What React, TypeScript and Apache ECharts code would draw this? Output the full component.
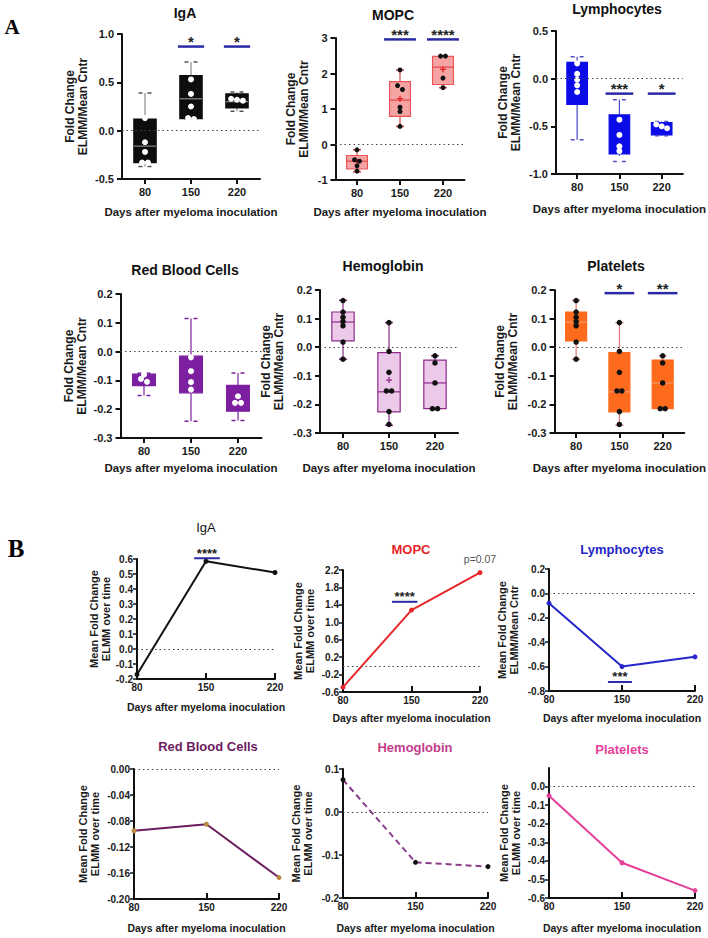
import React, { useEffect, useRef } from 'react';
import * as echarts from 'echarts';

const FONT = '"Liberation Sans", Arial, Helvetica, sans-serif';
const SERIF = '"Liberation Serif", "Times New Roman", Times, serif';

// ---------------- data ----------------
const days = [80, 150, 220];
const xName = 'Days after myeloma inoculation';
const yNameA = 'Fold Change\nELMM/Mean Cntr';
const yNameB = 'Mean Fold Change\nELMM over time';
const yNameBLymph = 'Mean Fold Change\nELMM/Mean Cntr';

// Panel A box statistics: [min, Q1, median, Q3, max] per day
const igaBoxStats = [[-0.37, -0.33, -0.16, 0.12, 0.39], [0.12, 0.125, 0.33, 0.57, 0.71], [0.2, 0.235, 0.3, 0.38, 0.4]];
const igaBoxPoints = [[0.13, -0.12, -0.22, -0.33, -0.33], [0.53, 0.38, 0.25, 0.13, 0.12], [0.33, 0.31, 0.32]];

const mopcBoxStats = [[-0.77, -0.69, -0.47, -0.31, -0.15], [0.51, 0.79, 1.25, 1.77, 2.1], [1.6, 1.69, 2.18, 2.48, 2.5]];
const mopcBoxMeans = [-0.48, 1.29, 2.12];
const mopcBoxPoints = [[-0.15, -0.43, -0.47, -0.6, -0.75], [2.1, 1.66, 1.55, 1.05, 0.93, 0.51], [2.49, 2.49, 1.87, 1.6]];

const lymphBoxStats = [[-0.64, -0.27, -0.05, 0.17, 0.23], [-0.87, -0.79, -0.6, -0.38, -0.22], [-0.6, -0.59, -0.52, -0.46, -0.45]];
const lymphBoxPoints = [[0.16, 0.05, -0.01, -0.07, -0.14], [-0.43, -0.59, -0.71, -0.76, -0.84], [-0.48, -0.5, -0.52]];

const rbcBoxStats = [[-0.152, -0.118, -0.1, -0.078, -0.075], [-0.242, -0.143, -0.09, -0.016, 0.115], [-0.239, -0.207, -0.17, -0.117, -0.074]];
const rbcBoxPoints = [[-0.08, -0.095, -0.105], [-0.02, -0.068, -0.106, -0.132], [-0.155, -0.178, -0.178]];

const hbBoxStats = [[-0.042, 0.022, 0.088, 0.123, 0.164], [-0.273, -0.226, -0.156, -0.019, 0.086], [-0.217, -0.215, -0.125, -0.045, -0.03]];
const hbBoxMeans = [null, -0.115, null];
const hbBoxPoints = [[0.163, 0.123, 0.105, 0.09, 0.075, 0.018, -0.042], [0.086, -0.015, -0.088, -0.153, -0.153, -0.225, -0.27], [-0.03, -0.055, -0.125, -0.215, -0.215]];

const pltBoxStats = [[-0.042, 0.022, 0.088, 0.123, 0.164], [-0.273, -0.226, -0.156, -0.019, 0.086], [-0.217, -0.215, -0.125, -0.045, -0.03]];
const pltBoxPoints = [[0.163, 0.123, 0.105, 0.09, 0.075, 0.018, -0.042], [0.086, -0.015, -0.088, -0.153, -0.153, -0.225, -0.27], [-0.03, -0.055, -0.125, -0.215, -0.215]];

// Panel B mean fold change over time
const igaMeanLine = [-0.17, 0.585, 0.51];
const mopcMeanLine = [-0.49, 1.28, 2.14];
const lymphMeanLine = [-0.08, -0.6, -0.52];
const rbcMeanLine = [-0.095, -0.085, -0.167];
const hbMeanLine = [0.075, -0.117, -0.127];
const pltMeanLine = [-0.049, -0.41, -0.56];
const mopcPValue = 'p=0.07';

// tick labels
const igaBoxTicks = [-0.5, 0, 0.5, 1.0];
const mopcBoxTicks = [-1, 0, 1, 2, 3];
const lymphBoxTicks = [-1.0, -0.5, 0, 0.5];
const smallBoxTicks = [-0.3, -0.2, -0.1, 0, 0.1, 0.2];
const igaLineTicks = [-0.2, -0.1, 0, 0.1, 0.2, 0.3, 0.4, 0.5, 0.6];
const mopcLineTicks = [-0.6, -0.2, 0.2, 0.6, 1.0, 1.4, 1.8, 2.2];
const lymphLineTicks = [-0.8, -0.6, -0.4, -0.2, 0, 0.2];
const rbcLineTicks = [-0.2, -0.16, -0.12, -0.08, -0.04, 0];
const hbLineTicks = [-0.2, -0.1, 0, 0.1];
const pltLineTicks = [-0.6, -0.5, -0.4, -0.3, -0.2, -0.1, 0];

// significance annotations
const igaBoxSig = [{ day: 150, y: 0.87, label: '*' }, { day: 220, y: 0.87, label: '*' }];
const mopcBoxSig = [{ day: 150, y: 2.96, label: '***' }, { day: 220, y: 2.96, label: '****' }];
const lymphBoxSig = [{ day: 150, y: -0.157, label: '***' }, { day: 220, y: -0.157, label: '*' }];
const pltBoxSig = [{ day: 150, y: 0.189, label: '*' }, { day: 220, y: 0.189, label: '**' }];
const igaLineSig = [{ day: 151, y: 0.605, label: '****' }];
const mopcLineSig = [{ day: 143, y: 1.47, label: '****' }];
const lymphLineSig = [{ day: 148, y: -0.726, label: '***' }];

// ---------------- helpers ----------------
function swarm(values: number[][], gap: number, spread: number) {
  const out: number[][] = [];
  values.forEach((vals, i) => {
    const sorted = [...vals].sort((a, b) => b - a);
    let k = 0;
    while (k < sorted.length) {
      let j = k + 1;
      while (j < sorted.length && sorted[j - 1] - sorted[j] < gap) j++;
      const n = j - k;
      for (let m = k; m < j; m++) out.push([days[i] + (m - k - (n - 1) / 2) * spread, sorted[m]]);
      k = j;
    }
  });
  return out;
}

const zeroLine = {
  silent: true,
  symbol: ['none', 'none'],
  label: { show: false },
  lineStyle: { type: [1.5, 3], color: '#444', width: 1 },
  emphasis: { disabled: true },
  data: [{ yAxis: 0 }],
};

function sigRenderer(sigs: any[], half: number, fontSize: number, lineW: number) {
  return (params: any, api: any) => {
    const s = sigs[params.dataIndex];
    const a = api.coord([s.day - half, s.y]);
    const b = api.coord([s.day + half, s.y]);
    return {
      type: 'group',
      children: [
        { type: 'line', shape: { x1: a[0], y1: a[1], x2: b[0], y2: b[1] }, style: { stroke: '#2a2aa6', lineWidth: lineW } },
        {
          type: 'text', x: (a[0] + b[0]) / 2, y: a[1] - 5,
          style: {
            text: s.label, fontSize, fontWeight: 'bold', fontFamily: FONT, fill: '#222',
            align: 'center', verticalAlign: 'middle', textAlign: 'center', textVerticalAlign: 'middle',
          },
        },
      ],
    };
  };
}

const BOX_DAYS = 34;

function boxRenderer(p: any) {
  return (params: any, api: any) => {
    const day = api.value(0);
    const c = (v: number) => api.coord([day, v]);
    const pMin = c(api.value(1));
    const pQ1 = c(api.value(2));
    const pMed = c(api.value(3));
    const pQ3 = c(api.value(4));
    const pMax = c(api.value(5));
    const mean = api.value(6);
    const left = api.coord([day - BOX_DAYS / 2, 0])[0];
    const right = api.coord([day + BOX_DAYS / 2, 0])[0];
    const cx = pMed[0];
    const ch = p.capW / 2;
    const children: any[] = [
      { type: 'line', shape: { x1: cx, y1: pMax[1], x2: cx, y2: pQ3[1] }, style: { stroke: p.whisker, lineWidth: 1.2 } },
      { type: 'line', shape: { x1: cx, y1: pQ1[1], x2: cx, y2: pMin[1] }, style: { stroke: p.whisker, lineWidth: 1.2 } },
      { type: 'rect', shape: { x: left, y: pQ3[1], width: right - left, height: pQ1[1] - pQ3[1] }, style: { fill: p.fill, stroke: p.border, lineWidth: 1.2 } },
      { type: 'line', shape: { x1: left, y1: pMed[1], x2: right, y2: pMed[1] }, style: { stroke: p.median, lineWidth: 1.2 } },
    ];
    [pMin[1], pMax[1]].forEach((y) => {
      children.push({
        type: 'line', shape: { x1: cx - ch, y1: y, x2: cx + ch, y2: y },
        style: { stroke: p.capColor || p.whisker, lineWidth: 1.5, lineDash: p.capDash ? [4, 5] : null },
      });
    });
    if (Number.isFinite(mean) && p.meanColor) {
      const pm = c(mean);
      children.push({ type: 'line', shape: { x1: pm[0] - 3, y1: pm[1], x2: pm[0] + 3, y2: pm[1] }, style: { stroke: p.meanColor, lineWidth: 1.3 } });
      children.push({ type: 'line', shape: { x1: pm[0], y1: pm[1] - 3, x2: pm[0], y2: pm[1] + 3 }, style: { stroke: p.meanColor, lineWidth: 1.3 } });
    }
    return { type: 'group', children };
  };
}

const boxPanels = [
  {
    title: 'IgA', tx: 185, ty: 13, grid: [122, 34, 138, 145], yMin: -0.5, yMax: 1.0, ticks: igaBoxTicks, dec: 1,
    yGap: 32.5, xGap: 27, stats: igaBoxStats, points: igaBoxPoints, means: null,
    fill: '#0d0d0d', border: '#0d0d0d', whisker: '#8a8a8a', median: '#8a8a8a', capColor: '#555', capDash: true, capW: 13,
    pointColor: '#ffffff', pointSize: 6, spread: 9, gap: 0.045, sigs: igaBoxSig, sigHalf: 20,
  },
  {
    title: 'MOPC', tx: 393, ty: 15, grid: [335.5, 38, 129, 142], yMin: -1, yMax: 3, ticks: mopcBoxTicks, dec: 0,
    yGap: 25, xGap: 26, stats: mopcBoxStats, points: mopcBoxPoints, means: mopcBoxMeans,
    fill: '#f5a3a3', border: '#ea5656', whisker: '#e04848', median: '#e04848', capDash: false, capW: 8, meanColor: '#e52020',
    pointColor: '#111111', pointSize: 5, spread: 8, gap: 0.11, sigs: mopcBoxSig, sigHalf: 26,
  },
  {
    title: 'Lymphocytes', tx: 617, ty: 9, grid: [556, 31, 130, 143], yMin: -1.0, yMax: 0.5, ticks: lymphBoxTicks, dec: 1,
    yGap: 33.5, xGap: 29, stats: lymphBoxStats, points: lymphBoxPoints, means: null,
    fill: '#0b0be8', border: '#0b0be8', whisker: '#4545c8', median: '#0b0be8', capColor: '#5050c8', capDash: true, capW: 13,
    pointColor: '#ffffff', pointSize: 6, spread: 9, gap: 0.045, sigs: lymphBoxSig, sigHalf: 23,
  },
  {
    title: 'Red Blood Cells', tx: 185, ty: 270, grid: [120.5, 294, 141, 144], yMin: -0.3, yMax: 0.2, ticks: smallBoxTicks, dec: 1,
    yGap: 32, xGap: 24, stats: rbcBoxStats, points: rbcBoxPoints, means: null,
    fill: '#7c1fa0', border: '#7c1fa0', whisker: '#7c1fa0', median: '#7c1fa0', capDash: true, capW: 13,
    pointColor: '#ffffff', pointSize: 6, spread: 9, gap: 0.014, sigs: [], sigHalf: 20,
  },
  {
    title: 'Hemoglobin', tx: 383, ty: 266, grid: [320, 290, 138, 143], yMin: -0.3, yMax: 0.2, ticks: smallBoxTicks, dec: 1,
    yGap: 34.5, xGap: 29, stats: hbBoxStats, points: hbBoxPoints, means: hbBoxMeans,
    fill: '#ecc9e9', border: '#8e2b8b', whisker: '#8e2b8b', median: '#8e2b8b', capDash: false, capW: 8, meanColor: '#8e2b8b',
    pointColor: '#111111', pointSize: 5.5, spread: 8, gap: 0.014, sigs: [], sigHalf: 20,
  },
  {
    title: 'Platelets', tx: 616, ty: 266, grid: [554.5, 290, 135, 143], yMin: -0.3, yMax: 0.2, ticks: smallBoxTicks, dec: 1,
    yGap: 35, xGap: 29, stats: pltBoxStats, points: pltBoxPoints, means: null,
    fill: '#ff6b1c', border: '#ff6b1c', whisker: '#e07a7a', median: '#f59a70', capDash: false, capW: 8,
    pointColor: '#111111', pointSize: 5.5, spread: 8, gap: 0.014, sigs: pltBoxSig, sigHalf: 24,
  },
];

const linePanels = [
  {
    title: 'IgA', titleColor: '#111', titleWeight: 'normal', tx: 206, ty: 527, grid: [137, 559, 138, 120], yMin: -0.2, yMax: 0.6,
    ticks: igaLineTicks, dec: 1, yName: yNameB, yGap: 24, xGap: 22.5, values: igaMeanLine,
    color: '#111111', marker: '#111111', lineType: 'solid', sigs: igaLineSig, sigHalf: 13, pLabel: null,
  },
  {
    title: 'MOPC', titleColor: '#e8262a', titleWeight: 'bold', tx: 411, ty: 549, grid: [343, 570, 137, 122], yMin: -0.6, yMax: 2.2,
    ticks: mopcLineTicks, dec: 1, yName: yNameB, yGap: 27, xGap: 20.5, values: mopcMeanLine,
    color: '#e8262a', marker: '#e8262a', lineType: 'solid', sigs: mopcLineSig, sigHalf: 13, pLabel: mopcPValue,
  },
  {
    title: 'Lymphocytes', titleColor: '#2626c9', titleWeight: 'bold', tx: 622, ty: 549, grid: [549, 569, 146, 122], yMin: -0.8, yMax: 0.2,
    ticks: lymphLineTicks, dec: 1, yName: yNameBLymph, yGap: 29, xGap: 21.5, values: lymphMeanLine,
    color: '#2626c9', marker: '#2626c9', lineType: 'solid', sigs: lymphLineSig, sigHalf: 11.5, pLabel: null,
  },
  {
    title: 'Red Blood Cells', titleColor: '#6c1d5f', titleWeight: 'bold', tx: 208, ty: 746, grid: [134, 769, 145, 130], yMin: -0.2, yMax: 0,
    ticks: rbcLineTicks, dec: 2, yName: yNameB, yGap: 33, xGap: 23.5, values: rbcMeanLine,
    color: '#6c1d5f', marker: '#b8893e', lineType: 'solid', sigs: [], sigHalf: 10, pLabel: null,
  },
  {
    title: 'Hemoglobin', titleColor: '#c43d8a', titleWeight: 'bold', tx: 415, ty: 747, grid: [343, 769, 145, 129], yMin: -0.2, yMax: 0.1,
    ticks: hbLineTicks, dec: 1, yName: yNameB, yGap: 29, xGap: 24.5, values: hbMeanLine,
    color: '#8b3d8b', marker: '#111111', lineType: [6, 4], sigs: [], sigHalf: 10, pLabel: null,
  },
  {
    title: 'Platelets', titleColor: '#e43f99', titleWeight: 'bold', tx: 622, ty: 749, grid: [549, 768, 146, 130], yMin: -0.6, yMax: 0.1,
    ticks: pltLineTicks, dec: 1, yName: yNameB, yGap: 27, xGap: 24.5, values: pltMeanLine,
    color: '#e43f99', marker: '#e43f99', lineType: 'solid', sigs: [], sigHalf: 10, pLabel: null,
  },
];

function textEl(text: string, x: number, y: number, size: number, weight: string, color: string, family = FONT) {
  return {
    type: 'text', x, y, silent: true,
    style: {
      text, fontSize: size, fontWeight: weight, fontFamily: family, fill: color,
      align: 'center', verticalAlign: 'middle', textAlign: 'center', textVerticalAlign: 'middle',
    },
  };
}

function buildOption() {
  const grids: any[] = [];
  const xAxes: any[] = [];
  const yAxes: any[] = [];
  const series: any[] = [];
  const graphics: any[] = [
    textEl('A', 12, 27, 21, 'bold', '#000', SERIF),
    textEl('B', 16, 548, 25, 'bold', '#000', SERIF),
  ];

  boxPanels.forEach((p) => {
    const gi = grids.length;
    grids.push({ left: p.grid[0], top: p.grid[1], width: p.grid[2], height: p.grid[3], containLabel: false });
    graphics.push(textEl(p.title, p.tx, p.ty, 14, 'bold', '#111'));
    xAxes.push({
      gridIndex: gi, type: 'value', min: 45, max: 255,
      name: xName, nameLocation: 'middle', nameGap: p.xGap,
      nameTextStyle: { fontSize: 11.5, fontWeight: 'bold', color: '#1a1a1a', fontFamily: FONT },
      axisLine: { show: true, onZero: false, lineStyle: { color: '#111', width: 2 } },
      axisTick: { show: true, customValues: days, length: 5, lineStyle: { color: '#111', width: 2 } },
      axisLabel: { customValues: days, fontSize: 11, fontWeight: 'bold', color: '#1a1a1a', margin: 7, fontFamily: FONT, formatter: (v: number) => String(v) },
      splitLine: { show: false },
    });
    yAxes.push({
      gridIndex: gi, type: 'value', min: p.yMin, max: p.yMax,
      name: yNameA, nameLocation: 'middle', nameGap: p.yGap, nameRotate: 90,
      nameTextStyle: { fontSize: 12, fontWeight: 'bold', lineHeight: 13, color: '#1a1a1a', fontFamily: FONT },
      axisLine: { show: true, onZero: false, lineStyle: { color: '#111', width: 2 } },
      axisTick: { show: true, customValues: p.ticks, length: 5, lineStyle: { color: '#111', width: 2 } },
      axisLabel: { customValues: p.ticks, fontSize: 11, fontWeight: 'bold', color: '#1a1a1a', margin: 8, fontFamily: FONT, formatter: (v: number) => v.toFixed(p.dec) },
      splitLine: { show: false },
    });
    series.push({
      type: 'custom', xAxisIndex: gi, yAxisIndex: gi, z: 2, silent: true,
      renderItem: boxRenderer(p),
      dimensions: ['day', 'min', 'q1', 'med', 'q3', 'max', 'mean'],
      encode: { x: 0, y: [1, 5] },
      data: p.stats.map((s, i) => [days[i], ...s, p.means ? p.means[i] : null]),
    });
    series.push({
      type: 'scatter', xAxisIndex: gi, yAxisIndex: gi, z: 4, silent: true,
      symbol: 'circle', symbolSize: p.pointSize,
      itemStyle: { color: p.pointColor, opacity: 1 },
      data: swarm(p.points, p.gap, p.spread),
      markLine: zeroLine,
    });
    if (p.sigs.length) {
      series.push({
        type: 'custom', xAxisIndex: gi, yAxisIndex: gi, z: 5, silent: true, clip: false,
        renderItem: sigRenderer(p.sigs, p.sigHalf, 15, 2.5),
        encode: { x: 0, y: 1 },
        data: p.sigs.map((s) => [s.day, s.y]),
      });
    }
  });

  linePanels.forEach((p) => {
    const gi = grids.length;
    grids.push({ left: p.grid[0], top: p.grid[1], width: p.grid[2], height: p.grid[3], containLabel: false });
    graphics.push(textEl(p.title, p.tx, p.ty, 13, p.titleWeight, p.titleColor));
    xAxes.push({
      gridIndex: gi, type: 'value', min: 80, max: 220,
      name: xName, nameLocation: 'middle', nameGap: p.xGap,
      nameTextStyle: { fontSize: 10.5, fontWeight: 'bold', color: '#1a1a1a', fontFamily: FONT },
      axisLine: { show: true, onZero: false, lineStyle: { color: '#111', width: 2 } },
      axisTick: { show: true, inside: true, customValues: days, length: 6, lineStyle: { color: '#111', width: 2 } },
      axisLabel: { customValues: days, fontSize: 10, fontWeight: 'bold', color: '#1a1a1a', margin: 3, fontFamily: FONT, formatter: (v: number) => String(v) },
      splitLine: { show: false },
    });
    yAxes.push({
      gridIndex: gi, type: 'value', min: p.yMin, max: p.yMax,
      name: p.yName, nameLocation: 'middle', nameGap: p.yGap, nameRotate: 90,
      nameTextStyle: { fontSize: 11, fontWeight: 'bold', lineHeight: 12, color: '#1a1a1a', fontFamily: FONT },
      axisLine: { show: true, onZero: false, lineStyle: { color: '#111', width: 2 } },
      axisTick: { show: true, customValues: p.ticks, length: 4, lineStyle: { color: '#111', width: 1.5 } },
      axisLabel: { customValues: p.ticks, fontSize: 10, fontWeight: 'bold', color: '#1a1a1a', margin: 4, fontFamily: FONT, formatter: (v: number) => v.toFixed(p.dec) },
      splitLine: { show: false },
    });
    series.push({
      type: 'line', xAxisIndex: gi, yAxisIndex: gi, z: 3, silent: true,
      symbol: 'circle', symbolSize: 5, showSymbol: true,
      lineStyle: { color: p.color, width: 2, type: p.lineType },
      itemStyle: { color: p.marker, borderWidth: 0 },
      data: p.values.map((v, i) => {
        if (p.pLabel && i === p.values.length - 1) {
          return {
            value: [days[i], v],
            label: { show: true, formatter: p.pLabel, position: 'top', distance: 6, color: '#555', fontSize: 10.5, fontFamily: FONT },
          };
        }
        return [days[i], v];
      }),
      markLine: zeroLine,
    });
    if (p.sigs.length) {
      series.push({
        type: 'custom', xAxisIndex: gi, yAxisIndex: gi, z: 5, silent: true, clip: false,
        renderItem: sigRenderer(p.sigs, p.sigHalf, 13, 2),
        encode: { x: 0, y: 1 },
        data: p.sigs.map((s) => [s.day, s.y]),
      });
    }
  });

  return {
    animation: false,
    backgroundColor: '#ffffff',
    textStyle: { fontFamily: FONT },
    grid: grids,
    xAxis: xAxes,
    yAxis: yAxes,
    series,
    graphic: graphics,
  };
}

export default function App() {
  const ref = useRef<HTMLDivElement>(null);
  useEffect(() => {
    if (!ref.current) return;
    const chart = echarts.init(ref.current, undefined, { renderer: 'svg' });
    chart.setOption(buildOption() as any);
    return () => chart.dispose();
  }, []);
  return (
    <div
      ref={ref}
      style={{ position: 'absolute', left: 0, top: 0, width: 708, height: 938, background: '#fff' }}
    />
  );
}
